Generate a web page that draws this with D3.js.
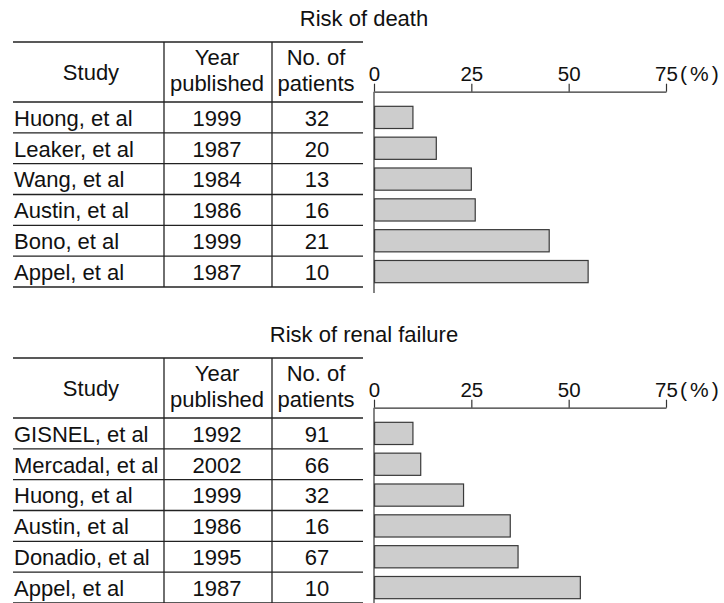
<!DOCTYPE html>
<html>
<head>
<meta charset="utf-8">
<script src="https://cdn.jsdelivr.net/npm/d3@7"></script>
<style>
  body { margin: 0; background: #fff; }
  svg text { font-family: "Liberation Sans", Arial, sans-serif; fill: #111; }
</style>
</head>
<body>
<div id="chart"></div>
<script>
// Risk of death
const death_studies = ["Huong, et al", "Leaker, et al", "Wang, et al", "Austin, et al", "Bono, et al", "Appel, et al"];
const death_years = [1999, 1987, 1984, 1986, 1999, 1987];
const death_patients = [32, 20, 13, 16, 21, 10];
const death_risk = [10, 16, 25, 26, 45, 55];

// Risk of renal failure
const renal_studies = ["GISNEL, et al", "Mercadal, et al", "Huong, et al", "Austin, et al", "Donadio, et al", "Appel, et al"];
const renal_years = [1992, 2002, 1999, 1986, 1995, 1987];
const renal_patients = [91, 66, 32, 16, 67, 10];
const renal_risk = [10, 12, 23, 35, 37, 53];

const risk_ticks = [0, 25, 50, 75];

const width = 724, height = 603;
const fs = 22;

const svg = d3.select("#chart").append("svg")
    .attr("width", width)
    .attr("height", height);

function panel(g, title, studies, years, patients, risk, bottom) {
    const tableTop = 42, headTop = 102, rowsEnd = 287;
    const tableLeft = 13, tableRight = 363;
    const col1 = 164, col2 = 272;

    // title
    g.append("text")
        .attr("x", 364)
        .attr("y", 26)
        .attr("text-anchor", "middle")
        .attr("font-size", fs)
        .text(title);

    const rows = d3.scaleBand()
        .domain(studies)
        .range([headTop, rowsEnd]);

    const x = d3.scaleLinear()
        .domain([0, 75])
        .range([374, 666]);

    const bars = d3.scaleBand()
        .domain(studies)
        .range([headTop, rowsEnd])
        .paddingInner(0.28)
        .paddingOuter(0.14);

    // table lines
    const hlines = [tableTop, headTop].concat(studies.map(s => rows(s) + rows.step()));
    g.selectAll(".hline")
        .data(hlines)
        .join("line")
        .attr("x1", tableLeft).attr("x2", tableRight)
        .attr("y1", d => d).attr("y2", d => d)
        .attr("stroke", "#222")
        .attr("stroke-width", 1.3);

    g.selectAll(".vline")
        .data([col1, col2])
        .join("line")
        .attr("x1", d => d).attr("x2", d => d)
        .attr("y1", tableTop).attr("y2", bottom)
        .attr("stroke", "#222")
        .attr("stroke-width", 1.3);

    // headers
    g.append("text")
        .attr("x", 91).attr("y", 80)
        .attr("text-anchor", "middle").attr("font-size", fs)
        .text("Study");
    [["Year", 65], ["published", 91]].forEach(([t, y]) => {
        g.append("text")
            .attr("x", 217).attr("y", y)
            .attr("text-anchor", "middle").attr("font-size", fs)
            .text(t);
    });
    [["No. of", 65], ["patients", 91]].forEach(([t, y]) => {
        g.append("text")
            .attr("x", 316).attr("y", y)
            .attr("text-anchor", "middle").attr("font-size", fs)
            .text(t);
    });

    // cells
    const cy = (d, i) => rows(studies[i]) + rows.bandwidth() / 2;
    g.selectAll(".study")
        .data(studies)
        .join("text")
        .attr("x", 14)
        .attr("y", cy)
        .attr("dy", "0.38em")
        .attr("font-size", fs)
        .text(d => d);
    g.selectAll(".year")
        .data(years)
        .join("text")
        .attr("x", 217)
        .attr("y", cy)
        .attr("dy", "0.38em")
        .attr("text-anchor", "middle")
        .attr("font-size", fs)
        .text(d => d);
    g.selectAll(".pts")
        .data(patients)
        .join("text")
        .attr("x", 317)
        .attr("y", cy)
        .attr("dy", "0.38em")
        .attr("text-anchor", "middle")
        .attr("font-size", fs)
        .text(d => d);

    // axis
    const axis = g.append("g")
        .attr("transform", "translate(0,91.7)")
        .call(d3.axisTop(x).tickValues(risk_ticks).tickSize(8).tickSizeOuter(0).tickPadding(3));
    axis.selectAll("path, line").attr("stroke", "#333").attr("stroke-width", 1.2);
    axis.selectAll("text")
        .attr("font-size", 20.5)
        .attr("font-family", "Liberation Sans, Arial, sans-serif")
        .attr("fill", "#111");

    g.append("text")
        .attr("x", 680)
        .attr("y", 80.7)
        .attr("font-size", 21)
        .attr("letter-spacing", 3)
        .text("(%)");

    // vertical base line
    g.append("line")
        .attr("x1", x(0)).attr("x2", x(0))
        .attr("y1", 91.7).attr("y2", bottom + 6)
        .attr("stroke", "#333")
        .attr("stroke-width", 1.2);

    // bars
    g.selectAll(".bar")
        .data(risk)
        .join("rect")
        .attr("x", x(0) + 0.6)
        .attr("y", (d, i) => bars(studies[i]))
        .attr("width", d => x(d) - x(0) - 0.6)
        .attr("height", bars.bandwidth())
        .attr("fill", "#cdcdcd")
        .attr("stroke", "#3a3a3a")
        .attr("stroke-width", 1.2);
}

panel(svg.append("g"), "Risk of death",
    death_studies, death_years, death_patients, death_risk, 287);

panel(svg.append("g").attr("transform", "translate(0,316)"), "Risk of renal failure",
    renal_studies, renal_years, renal_patients, renal_risk, 300);
</script>
</body>
</html>
